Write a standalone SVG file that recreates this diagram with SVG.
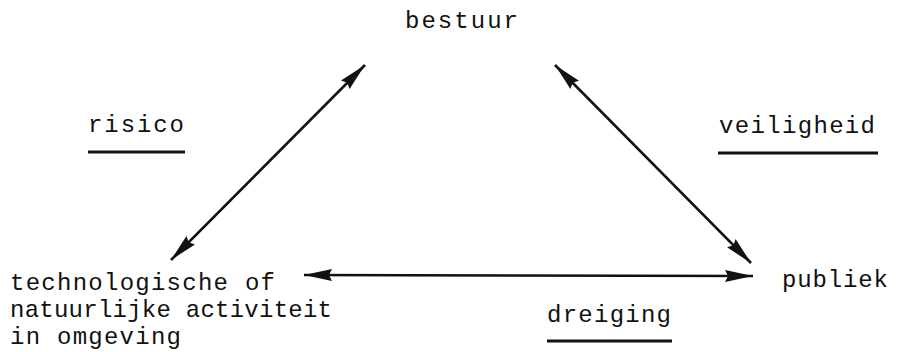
<svg xmlns="http://www.w3.org/2000/svg" width="900" height="352" viewBox="0 0 900 352">
<style>
text{font-family:"Liberation Mono","DejaVu Sans Mono",monospace;font-size:24px;fill:#111}
.conn{stroke:#111;stroke-width:2.6;fill:none;marker-start:url(#ah);marker-end:url(#ah)}
.ul{stroke:#111;stroke-width:3}
</style>
<defs>
<marker id="ah" viewBox="0 0 28 14" refX="28" refY="7" markerWidth="28" markerHeight="14" markerUnits="userSpaceOnUse" orient="auto-start-reverse">
<path d="M0,1 L28,7 L0,13 L3,7 z" fill="#111"/>
</marker>
</defs>
<rect width="900" height="352" fill="#fff"/>
<g id="connectors">
<line class="conn" x1="171" y1="260" x2="365" y2="65"/>
<line class="conn" x1="555" y1="65" x2="751" y2="263"/>
<line class="conn" x1="304" y1="275" x2="753" y2="276"/>
</g>
<g id="bestuur"><text x="405" y="28" textLength="113" lengthAdjust="spacing">bestuur</text></g>
<g id="publiek"><text x="782" y="287" textLength="106" lengthAdjust="spacing">publiek</text></g>
<g id="activiteit">
<text x="10" y="290" textLength="265" lengthAdjust="spacing">technologische of</text>
<text x="10" y="317" textLength="322" lengthAdjust="spacing">natuurlijke activiteit</text>
<text x="10" y="344" textLength="171" lengthAdjust="spacing">in omgeving</text>
</g>
<g id="labels">
<g id="risico"><text x="88" y="132" textLength="96" lengthAdjust="spacing">risico</text><line class="ul" x1="88" y1="152" x2="185" y2="152"/></g>
<g id="veiligheid"><text x="719" y="133" textLength="156" lengthAdjust="spacing">veiligheid</text><line class="ul" x1="718" y1="153" x2="878" y2="153"/></g>
<g id="dreiging"><text x="547" y="322" textLength="124" lengthAdjust="spacing">dreiging</text><line class="ul" x1="547" y1="341" x2="672" y2="341"/></g>
</g>
</svg>
